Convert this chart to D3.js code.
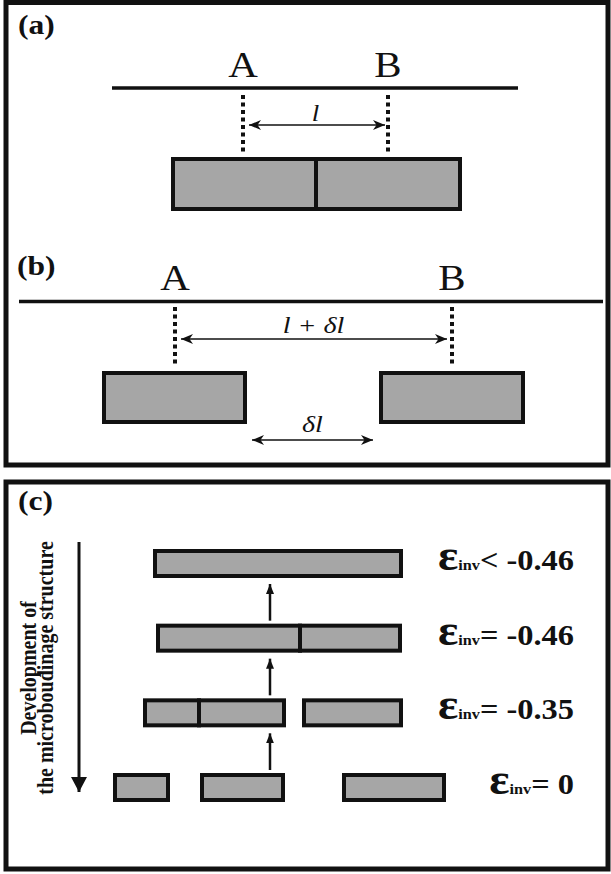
<!DOCTYPE html>
<html>
<head>
<meta charset="utf-8">
<script src="https://cdn.jsdelivr.net/npm/d3@7"></script>
<style>
  body { margin: 0; background: #fff; }
  svg text { font-family: "Liberation Serif", "Times New Roman", Times, serif; fill: #111; }
</style>
</head>
<body>
<div id="chart"></div>
<script>
// ---- data ----
// panel (a): reference points and the two touching boudins
var refNames = ["A", "B"];
var refXA = [243, 388];
var lineA = [112, 518];
var boudinsA = [[171, 316], [316, 462]];

// panel (b): separated boudins, gap between them
var refXB = [175, 452];
var lineB = [19, 603];
var boudinsB = [[102, 247], [379, 525]];
var gapB = [252, 373];

// panel (c): stages of microboudinage
var stages = ["< -0.46", "= -0.46", "= -0.35", "= 0"];
var stageBoudins = [
  [[153, 403]],
  [[156, 300], [300, 402]],
  [[143, 199], [199, 286], [302, 403]],
  [[113, 170], [200, 285], [342, 446]]
];
var sideText = ["Development of", "the microboudinage structure"];

// ---- setup ----
var W = 611, H = 874;
var SX = 1.17;          // the original figure is slightly stretched horizontally
var fill = "#a6a6a6";

var x = d3.scaleLinear().domain([0, W]).range([0, W]);
var rowY = d3.scalePoint().domain(stages).range([549, 773]);

var svg = d3.select("#chart").append("svg")
  .attr("width", W)
  .attr("height", H)
  .style("background-color", "white");

var defs = svg.append("defs");
function marker(id, d, w, h) {
  defs.append("marker")
    .attr("id", id)
    .attr("viewBox", (-w) + " " + (-h / 2) + " " + (w + 1) + " " + h)
    .attr("refX", 0).attr("refY", 0)
    .attr("markerUnits", "userSpaceOnUse")
    .attr("markerWidth", w + 1).attr("markerHeight", h)
    .attr("orient", "auto-start-reverse")
    .append("path").attr("d", d).attr("fill", "#111");
}
marker("thin", "M0,0 L-12,-5 L-8.5,0 L-12,5 Z", 12, 10);
marker("up", "M0,0 L-10,-4 L-10,4 Z", 10, 8);
marker("big", "M0,0 L-15,-8 L-15,8 Z", 15, 16);

function label(g, txt, px, py, size, opts) {
  opts = opts || {};
  return g.append("text")
    .attr("transform", "translate(" + px + "," + py + ") scale(" + SX + ",1)")
    .attr("text-anchor", opts.anchor || "middle")
    .style("font-size", size + "px")
    .style("font-weight", opts.bold ? "bold" : "normal")
    .style("font-style", opts.italic ? "italic" : "normal")
    .text(txt);
}

// touching boudins share one 4px edge
function boudins(g, data, top, bottom) {
  g.selectAll("rect.b")
    .data(data)
    .enter().append("rect")
    .attr("class", "b")
    .attr("x", function(d, i) {
      var shared = i > 0 && data[i - 1][1] === d[0];
      return x(d[0]) + (shared ? 0 : 2);
    })
    .attr("y", top + 2)
    .attr("width", function(d, i) {
      var l = i > 0 && data[i - 1][1] === d[0] ? 0 : 2;
      var r = i < data.length - 1 && data[i + 1][0] === d[1] ? 0 : 2;
      return x(d[1]) - x(d[0]) - l - r;
    })
    .attr("height", bottom - top - 4)
    .attr("fill", fill)
    .attr("stroke", "#111")
    .attr("stroke-width", 4);
}

function dashed(g, data, y0, y1) {
  g.selectAll("line.d")
    .data(data)
    .enter().append("line")
    .attr("class", "d")
    .attr("x1", function(d) { return x(d); })
    .attr("x2", function(d) { return x(d); })
    .attr("y1", y0).attr("y2", y1)
    .attr("stroke", "#111")
    .attr("stroke-width", 4)
    .attr("stroke-dasharray", "4,3.5");
}

function dblArrow(g, x0, x1, y) {
  g.append("line")
    .attr("x1", x(x0)).attr("x2", x(x1))
    .attr("y1", y).attr("y2", y)
    .attr("stroke", "#111")
    .attr("stroke-width", 1.5)
    .attr("marker-start", "url(#thin)")
    .attr("marker-end", "url(#thin)");
}

// ---- frames ----
svg.append("rect")
  .attr("x", 6).attr("y", 2.5)
  .attr("width", 602).attr("height", 462.5)
  .attr("fill", "none").attr("stroke", "#111").attr("stroke-width", 5);
svg.append("rect")
  .attr("x", 6).attr("y", 482)
  .attr("width", 602).attr("height", 387)
  .attr("fill", "none").attr("stroke", "#111").attr("stroke-width", 5);

// ---- panel (a) ----
var ga = svg.append("g");
label(ga, "(a)", 18, 34, 27, { anchor: "start", bold: true });
ga.append("line")
  .attr("x1", x(lineA[0])).attr("x2", x(lineA[1]))
  .attr("y1", 88).attr("y2", 88)
  .attr("stroke", "#111").attr("stroke-width", 3.5);
refNames.forEach(function(n, i) { label(ga, n, x(refXA[i]), 77, 35); });
dashed(ga, refXA, 95, 153);
dblArrow(ga, refXA[0] + 6, refXA[1] - 3, 125);
label(ga, "l", (x(refXA[0]) + x(refXA[1])) / 2, 121, 23, { italic: true });
boudins(ga, boudinsA, 157, 211);

// ---- panel (b) ----
var gb = svg.append("g");
label(gb, "(b)", 17, 275, 27, { anchor: "start", bold: true });
gb.append("line")
  .attr("x1", x(lineB[0])).attr("x2", x(lineB[1]))
  .attr("y1", 301.5).attr("y2", 301.5)
  .attr("stroke", "#111").attr("stroke-width", 3.5);
refNames.forEach(function(n, i) { label(gb, n, x(refXB[i]), 290, 35); });
dashed(gb, refXB, 307, 367);
dblArrow(gb, refXB[0] + 6, refXB[1] - 5, 339);
label(gb, "l + \u03b4l", (x(refXB[0]) + x(refXB[1])) / 2, 333, 24, { italic: true });
boudins(gb, boudinsB, 371, 424);
dblArrow(gb, gapB[0], gapB[1], 440);
label(gb, "\u03b4l", (x(gapB[0]) + x(gapB[1])) / 2, 432, 24, { italic: true });

// ---- panel (c) ----
var gc = svg.append("g");
label(gc, "(c)", 18, 510, 27, { anchor: "start", bold: true });

// long arrow + side text
gc.append("line")
  .attr("x1", 79).attr("x2", 79)
  .attr("y1", 542).attr("y2", 792)
  .attr("stroke", "#111").attr("stroke-width", 3)
  .attr("marker-end", "url(#big)");
sideText.forEach(function(t, i) {
  gc.append("text")
    .attr("transform", "translate(" + (36 + i * 17) + ",668) scale(" + SX + ",1) rotate(-90)")
    .attr("text-anchor", "middle")
    .style("font-size", "20px")
    .style("font-weight", "bold")
    .text(t);
});

stages.forEach(function(s, i) {
  var top = rowY(s);
  var g = gc.append("g");
  boudins(g, stageBoudins[i], top, top + 29);

  var t = g.append("text")
    .attr("transform", "translate(574," + (top + 21) + ") scale(1.08,1)")
    .attr("text-anchor", "end")
    .style("font-weight", "bold");
  t.append("tspan").style("font-size", "44px").text("\u03b5");
  t.append("tspan").style("font-size", "15px").text("inv");
  t.append("tspan").style("font-size", "30px").text(s);

  // arrow from this stage up to the previous one
  if (i > 0) {
    var prevBottom = rowY(stages[i - 1]) + 29;
    g.append("line")
      .attr("x1", 270).attr("x2", 270)
      .attr("y1", top - 3).attr("y2", prevBottom + 6)
      .attr("stroke", "#111").attr("stroke-width", 2.5)
      .attr("marker-end", "url(#up)");
  }
});
</script>
</body>
</html>
